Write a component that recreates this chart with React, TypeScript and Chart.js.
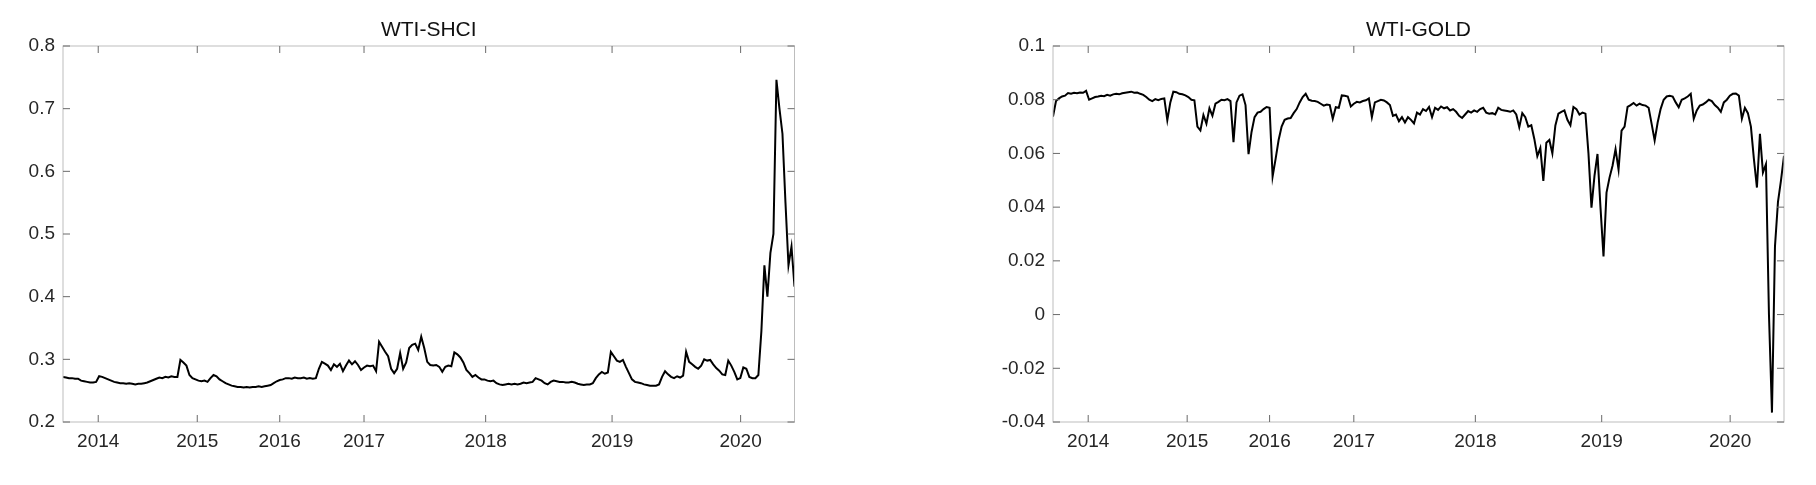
import React, { useEffect, useRef } from 'react';
import { Chart, registerables } from 'chart.js';

Chart.register(...registerables);

const YEAR_LABELS = ['2014', '2015', '2016', '2017', '2018', '2019', '2020'];
const YEAR_TICK_POS = [11.7, 44.6, 72.0, 100.0, 140.4, 182.4, 225.1];

const SHCI_TITLE = 'WTI-SHCI';
const GOLD_TITLE = 'WTI-GOLD';

const SHCI_Y_TICKS = [0.2, 0.3, 0.4, 0.5, 0.6, 0.7, 0.8];
const GOLD_Y_TICKS = [-0.04, -0.02, 0, 0.02, 0.04, 0.06, 0.08, 0.1];

const SHCI = [
  0.272, 0.271, 0.270, 0.270, 0.269, 0.269, 0.266, 0.265, 0.264, 0.263,
  0.263, 0.264, 0.273, 0.272, 0.270, 0.268, 0.266, 0.264, 0.263, 0.262,
  0.262, 0.261, 0.262, 0.261, 0.260, 0.261, 0.261, 0.262, 0.263, 0.265,
  0.267, 0.269, 0.271, 0.270, 0.272, 0.271, 0.273, 0.272, 0.272, 0.299,
  0.295, 0.290, 0.275, 0.270, 0.268, 0.266, 0.265, 0.266, 0.264, 0.270,
  0.275, 0.273, 0.268, 0.265, 0.262, 0.260, 0.258, 0.257, 0.256, 0.256,
  0.255, 0.256, 0.255, 0.256, 0.256, 0.257, 0.256, 0.257, 0.258, 0.259,
  0.262, 0.265, 0.267, 0.268, 0.270, 0.270, 0.269, 0.271, 0.270, 0.270,
  0.271, 0.269, 0.270, 0.269, 0.270, 0.285, 0.296, 0.293, 0.290, 0.283,
  0.292, 0.288, 0.293, 0.281, 0.290, 0.298, 0.292, 0.297, 0.291, 0.283,
  0.287, 0.290, 0.289, 0.290, 0.281, 0.328, 0.320, 0.312, 0.305, 0.285,
  0.278, 0.285, 0.310, 0.285, 0.295, 0.318, 0.323, 0.325, 0.315, 0.336,
  0.318, 0.296, 0.291, 0.290, 0.291, 0.288, 0.280, 0.288, 0.290, 0.289,
  0.311, 0.308, 0.303, 0.295, 0.283, 0.278, 0.272, 0.275, 0.271, 0.268,
  0.268, 0.266, 0.265, 0.266, 0.262, 0.260, 0.259, 0.260, 0.261, 0.260,
  0.261, 0.260, 0.261, 0.263, 0.262, 0.263, 0.264, 0.270, 0.268, 0.266,
  0.262, 0.260, 0.264, 0.266, 0.265, 0.264, 0.264, 0.263, 0.263, 0.264,
  0.263, 0.261, 0.260, 0.259, 0.260, 0.260, 0.262, 0.270, 0.276, 0.280,
  0.277, 0.279, 0.312, 0.305, 0.298, 0.296, 0.299, 0.288, 0.278, 0.268,
  0.264, 0.263, 0.262, 0.260, 0.259, 0.258, 0.258, 0.258, 0.260, 0.272,
  0.281, 0.276, 0.272, 0.270, 0.273, 0.271, 0.274, 0.312, 0.296, 0.292,
  0.288, 0.285, 0.290, 0.300, 0.298, 0.299, 0.292, 0.286, 0.282, 0.276,
  0.275, 0.298, 0.290, 0.280, 0.268, 0.270, 0.287, 0.285, 0.272, 0.270,
  0.270, 0.275, 0.345, 0.450, 0.400, 0.470, 0.500, 0.746, 0.700, 0.660,
  0.550, 0.450, 0.480, 0.416,
];

const GOLD = [
  0.0737, 0.0795, 0.0805, 0.0812, 0.0815, 0.0825, 0.0822, 0.0826, 0.0824, 0.0827,
  0.0826, 0.0833, 0.0800, 0.0805, 0.0810, 0.0812, 0.0815, 0.0813, 0.0818, 0.0815,
  0.0820, 0.0822, 0.0820, 0.0824, 0.0826, 0.0828, 0.0830, 0.0826, 0.0827, 0.0822,
  0.0818, 0.0810, 0.0800, 0.0795, 0.0802, 0.0798, 0.0803, 0.0805, 0.0724, 0.0790,
  0.0830, 0.0828, 0.0822, 0.0820, 0.0816, 0.0810, 0.0800, 0.0798, 0.0700, 0.0686,
  0.0743, 0.0711, 0.0768, 0.0740, 0.0785, 0.0792, 0.0800, 0.0798, 0.0802, 0.0795,
  0.0642, 0.0790, 0.0815, 0.0820, 0.0780, 0.0597, 0.0680, 0.0735, 0.0752, 0.0755,
  0.0765, 0.0773, 0.0770, 0.0514, 0.0580, 0.0650, 0.0700, 0.0725, 0.0730, 0.0732,
  0.0750, 0.0765, 0.0790, 0.0810, 0.0822, 0.0800, 0.0796, 0.0795, 0.0792, 0.0785,
  0.0778, 0.0782, 0.0780, 0.0729, 0.0772, 0.0770, 0.0816, 0.0815, 0.0812, 0.0775,
  0.0785, 0.0792, 0.0790, 0.0795, 0.0798, 0.0805, 0.0735, 0.0790, 0.0795, 0.0800,
  0.0797, 0.0790, 0.0780, 0.0740, 0.0745, 0.0720, 0.0735, 0.0715, 0.0735, 0.0725,
  0.0712, 0.0752, 0.0745, 0.0765, 0.0758, 0.0773, 0.0735, 0.0770, 0.0762, 0.0775,
  0.0768, 0.0772, 0.0760, 0.0765, 0.0755, 0.0740, 0.0732, 0.0745, 0.0758, 0.0752,
  0.0760, 0.0755, 0.0765, 0.0770, 0.0752, 0.0748, 0.0750, 0.0745, 0.0770, 0.0762,
  0.0760, 0.0758, 0.0755, 0.0760, 0.0745, 0.0698, 0.0750, 0.0735, 0.0700, 0.0705,
  0.0654, 0.0590, 0.0620, 0.0498, 0.0640, 0.0650, 0.0600, 0.0704, 0.0748, 0.0755,
  0.0760, 0.0725, 0.0705, 0.0773, 0.0765, 0.0745, 0.0752, 0.0748, 0.0600, 0.0398,
  0.0516, 0.0598, 0.0398, 0.0216, 0.0454, 0.0510, 0.0554, 0.0616, 0.0540, 0.0685,
  0.0700, 0.0773, 0.0780, 0.0788, 0.0778, 0.0785, 0.0780, 0.0778, 0.0770, 0.0710,
  0.0648, 0.0715, 0.0766, 0.0800, 0.0812, 0.0815, 0.0812, 0.0790, 0.0772, 0.0800,
  0.0805, 0.0812, 0.0822, 0.0729, 0.0760, 0.0778, 0.0782, 0.0790, 0.0800, 0.0795,
  0.0780, 0.0770, 0.0755, 0.0790, 0.0800, 0.0815, 0.0822, 0.0823, 0.0815, 0.0729,
  0.0770, 0.0750, 0.0700, 0.0579, 0.0473, 0.0673, 0.0529, 0.0560, 0.0000, -0.0365,
  0.0254, 0.0420, 0.0500, 0.0591,
];

const FONT_FAMILY = '"Liberation Sans", Arial, Helvetica, sans-serif';
const TEXT_COLOR = '#262626';

type PanelProps = {
  title: string;
  values: number[];
  yTicks: number[];
  yLabel: (v: number) => string;
  yAxisWidth: number;
  padRight: number;
};

function Panel({ title, values, yTicks, yLabel, yAxisWidth, padRight }: PanelProps) {
  const ref = useRef<HTMLCanvasElement | null>(null);
  useEffect(() => {
    if (!ref.current) return;
    const framePlugin = {
      id: 'matlabFrame',
      afterDraw(chart: any) {
        const { ctx, chartArea: a, scales } = chart;
        ctx.save();
        ctx.strokeStyle = '#bdbdbd';
        ctx.lineWidth = 1;
        ctx.strokeRect(a.left, a.top, a.right - a.left, a.bottom - a.top);
        ctx.strokeStyle = '#6a6a6a';
        const tl = 7;
        ctx.beginPath();
        for (const t of yTicks) {
          const y = scales.y.getPixelForValue(t);
          ctx.moveTo(a.left, y);
          ctx.lineTo(a.left + tl, y);
          ctx.moveTo(a.right, y);
          ctx.lineTo(a.right - tl, y);
        }
        for (const p of YEAR_TICK_POS) {
          const x = scales.x.getPixelForValue(p);
          ctx.moveTo(x, a.bottom);
          ctx.lineTo(x, a.bottom - tl);
          ctx.moveTo(x, a.top);
          ctx.lineTo(x, a.top + tl);
        }
        ctx.stroke();
        ctx.fillStyle = '#111111';
        ctx.font = `21px ${FONT_FAMILY}`;
        ctx.textAlign = 'center';
        ctx.textBaseline = 'middle';
        ctx.fillText(title, (a.left + a.right) / 2, 30);
        ctx.restore();
      },
    };
    const chart = new Chart(ref.current, {
      type: 'line',
      data: {
        labels: values.map((_, i) => i),
        datasets: [
          {
            data: values.map((v, i) => ({ x: i, y: v })),
            borderColor: '#000000',
            borderWidth: 2,
            pointRadius: 0,
            tension: 0,
            fill: false,
          },
        ],
      },
      options: {
        responsive: false,
        animation: false,
        devicePixelRatio: 1,
        layout: { padding: { top: 46, right: padRight, left: 0, bottom: 0 } },
        plugins: { legend: { display: false }, tooltip: { enabled: false }, title: { display: false } },
        scales: {
          x: {
            type: 'linear',
            min: 0,
            max: values.length - 1,
            grid: { display: false, drawTicks: false },
            border: { display: false },
            afterFit: (s: any) => {
              s.height = 63;
            },
            afterBuildTicks: (s: any) => {
              s.ticks = YEAR_TICK_POS.map((v) => ({ value: v }));
            },
            ticks: {
              padding: 8,
              autoSkip: false,
              maxRotation: 0,
              color: TEXT_COLOR,
              font: { family: FONT_FAMILY, size: 19 },
              callback: (v: any) => {
                const idx = YEAR_TICK_POS.indexOf(Number(v));
                return idx >= 0 ? YEAR_LABELS[idx] : '';
              },
            },
          },
          y: {
            type: 'linear',
            min: yTicks[0],
            max: yTicks[yTicks.length - 1],
            grid: { display: false, drawTicks: false },
            border: { display: false },
            afterFit: (s: any) => {
              s.width = yAxisWidth;
            },
            afterBuildTicks: (s: any) => {
              s.ticks = yTicks.map((v) => ({ value: v }));
            },
            ticks: {
              padding: 8,
              color: TEXT_COLOR,
              font: { family: FONT_FAMILY, size: 19 },
              callback: (v: any) => yLabel(Number(v)),
            },
          },
        },
      },
      plugins: [framePlugin],
    } as any);
    return () => chart.destroy();
  }, [title, values, yTicks, yLabel, yAxisWidth, padRight]);
  return <canvas ref={ref} width={908} height={485} style={{ display: 'block', width: 908, height: 485 }} />;
}

const shciLabel = (v: number) => v.toFixed(1);
const goldLabel = (v: number) => {
  const r = Math.round(v * 100) / 100;
  return r === 0 ? '0' : String(r);
};

export default function App() {
  return (
    <div style={{ position: 'absolute', left: 0, top: 0, width: 1816, height: 485, display: 'flex', background: '#ffffff' }}>
      <Panel title={SHCI_TITLE} values={SHCI} yTicks={SHCI_Y_TICKS} yLabel={shciLabel} yAxisWidth={63} padRight={113.5} />
      <Panel title={GOLD_TITLE} values={GOLD} yTicks={GOLD_Y_TICKS} yLabel={goldLabel} yAxisWidth={145} padRight={32} />
    </div>
  );
}
